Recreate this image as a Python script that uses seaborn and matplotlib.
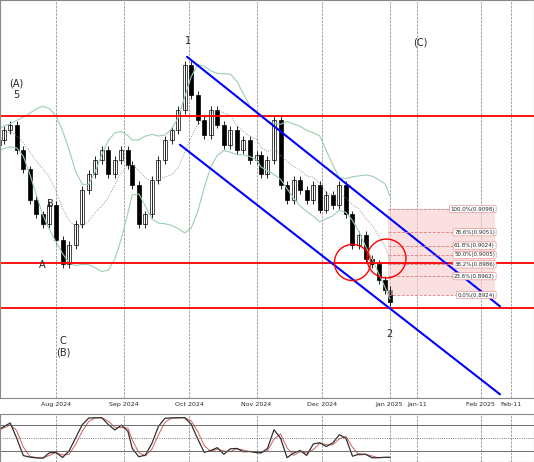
import numpy as np
import pandas as pd
import seaborn as sns
import matplotlib.pyplot as plt

closes = [0.9238, 0.9258, 0.9269, 0.9218, 0.9178, 0.9117, 0.9087, 0.9067, 0.9107, 0.9036,
          0.8986, 0.9026, 0.9067, 0.9137, 0.9168, 0.9198, 0.9218, 0.9168, 0.9198, 0.9218,
          0.9188, 0.9147, 0.9067, 0.9087, 0.9157, 0.9198, 0.9238, 0.9258, 0.9299, 0.9390,
          0.9329, 0.9279, 0.9248, 0.9299, 0.9269, 0.9228, 0.9258, 0.9218, 0.9238, 0.9198,
          0.9208, 0.9168, 0.9198, 0.9279, 0.9147, 0.9117, 0.9157, 0.9137, 0.9117, 0.9147,
          0.9097, 0.9127, 0.9107, 0.9147, 0.9087, 0.9026, 0.9046, 0.8996, 0.8986, 0.8955,
          0.8935, 0.8909]
dates = pd.date_range("2024-07-06", "2025-01-02", periods=len(closes))
red_levels = [0.9286, 0.8989, 0.8898]
fib_pct = ["100.0%", "78.6%", "61.8%", "50.0%", "38.2%", "23.6%", "0.0%"]
fib_px = [0.9098, 0.9051, 0.9024, 0.9005, 0.8986, 0.8962, 0.8924]
month_ticks = ["2024-08-01", "2024-09-01", "2024-10-01", "2024-11-01", "2024-12-01", "2025-01-01", "2025-01-11", "2025-02-01", "2025-02-11"]
month_labels = ["Aug 2024", "Sep 2024", "Oct 2024", "Nov 2024", "Dec 2024", "Jan 2025", "Jan-11", "Feb 2025", "Feb-11"]


def tx(d):
    # chart position: history and future area use different spacing
    d = pd.Timestamp(d)
    a, j = pd.Timestamp("2024-08-01"), pd.Timestamp("2025-01-01")
    if d <= j:
        return 56 + (d - a).days * 2.18
    return 387 + (d - j).days * 3.03


df = pd.DataFrame({"date": dates, "close": closes})
df["open"] = df["close"].shift(1).fillna(df["close"][0] - 0.001)
df["high"] = df[["open", "close"]].max(axis=1) + 0.0008
df["low"] = df[["open", "close"]].min(axis=1) - 0.0008
df["ma"] = df["close"].rolling(8, min_periods=1).mean()
sd = df["close"].rolling(8, min_periods=2).std().bfill()
df["up"] = (df["ma"] + 1.6 * sd).rolling(3, min_periods=1).mean()
df["dn"] = (df["ma"] - 1.6 * sd).rolling(3, min_periods=1).mean()
lo = df["low"].rolling(5, min_periods=1).min()
hi = df["high"].rolling(5, min_periods=1).max()
df["k"] = 100 * (df["close"] - lo) / (hi - lo)
df["k"] = df["k"].rolling(2, min_periods=1).mean()
df["d"] = df["k"].rolling(2, min_periods=1).mean()
xn = np.array([tx(d) for d in df["date"]])

sns.set_style("white")
fig = plt.figure(figsize=(5.34, 4.62), dpi=100)
ax = fig.add_axes([0, 0.139, 1, 0.861])
ax2 = fig.add_axes([0, 0, 1, 0.104])

for xi, o, c, h, l in zip(xn, df["open"], df["close"], df["high"], df["low"]):
    ax.vlines(xi, l, h, color="black", lw=0.6)
    col = "white" if c >= o else "black"
    ax.bar(xi, abs(c - o) or 0.0003, bottom=min(o, c), width=4, color=col, edgecolor="black", lw=0.5)
sns.lineplot(x=xn, y=df["up"], ax=ax, color="#9ccfb0", lw=0.8)
sns.lineplot(x=xn, y=df["dn"], ax=ax, color="#9ccfb0", lw=0.8)
sns.lineplot(x=xn, y=df["ma"], ax=ax, color="gray", lw=0.6, linestyle=":")

for lv in red_levels:
    ax.axhline(lv, color="red", lw=1.3)

# channel
ax.plot([187, 500], [0.9406, 0.8901], color="blue", lw=1.5)
ax.plot([180, 500], [0.9228, 0.8723], color="blue", lw=1.5)

# fib box
fx0, fx1 = 388, 495
ax.fill_between([fx0, fx1], fib_px[-1], fib_px[0], color="#f8cccc", alpha=0.6, lw=0)
for p, lab in zip(fib_px, fib_pct):
    ax.plot([fx0, fx1], [p, p], color="#e08080", lw=0.6, linestyle="--")
    ax.text(fx1, p, f"{lab}({p:.4f})", fontsize=4, ha="right", va="center",
            bbox=dict(boxstyle="round,pad=0.2", fc="white", ec="#e08080", lw=0.4))
ax.plot([352], [0.8991], "o", mfc="none", mec="red", ms=26, mew=1)
ax.plot([386], [0.8999], "o", mfc="none", mec="red", ms=28, mew=1)

waves = [("(A)\n5", 16, 0.9340), ("A", 42, 0.8985), ("B", 50, 0.9108),
         ("C\n(B)", 63, 0.8820), ("1", 188, 0.9438), ("2", 389, 0.8845),
         ("(C)", 420, 0.9435)]
for t, px, p in waves:
    ax.text(px, p, t, fontsize=7, ha="center", va="center")

ax.set_xlim(0, 534)
ax.set_ylim(0.8716, 0.9521)
ax.set_xticks([tx(s) for s in month_ticks])
ax.set_xticklabels(month_labels, fontsize=4.5)
ax.tick_params(axis="x", pad=1, length=2)
ax.set_yticks([])
ax.grid(axis="x", color="gray", linestyle="--", lw=0.5)
ax.set_xlabel("")
ax.set_ylabel("")
for s in ax.spines.values():
    s.set_color("#888888")

sns.lineplot(x=xn, y=df["d"], ax=ax2, color="#d06060", lw=0.7)
sns.lineplot(x=xn, y=df["k"], ax=ax2, color="#303030", lw=0.9)
for lv, ls in [(80, "-"), (50, ":"), (20, "-")]:
    ax2.axhline(lv, color="#555555", lw=0.6, linestyle=ls)
ax2.set_xlim(0, 534)
ax2.set_ylim(-5, 105)
ax2.set_xticks([tx(s) for s in month_ticks])
ax2.set_xticklabels([])
ax2.set_yticks([])
ax2.grid(axis="x", color="gray", linestyle="--", lw=0.5)
ax2.set_xlabel("")
ax2.set_ylabel("")
for s in ax2.spines.values():
    s.set_color("#888888")

fig.savefig("out.png", dpi=100)
